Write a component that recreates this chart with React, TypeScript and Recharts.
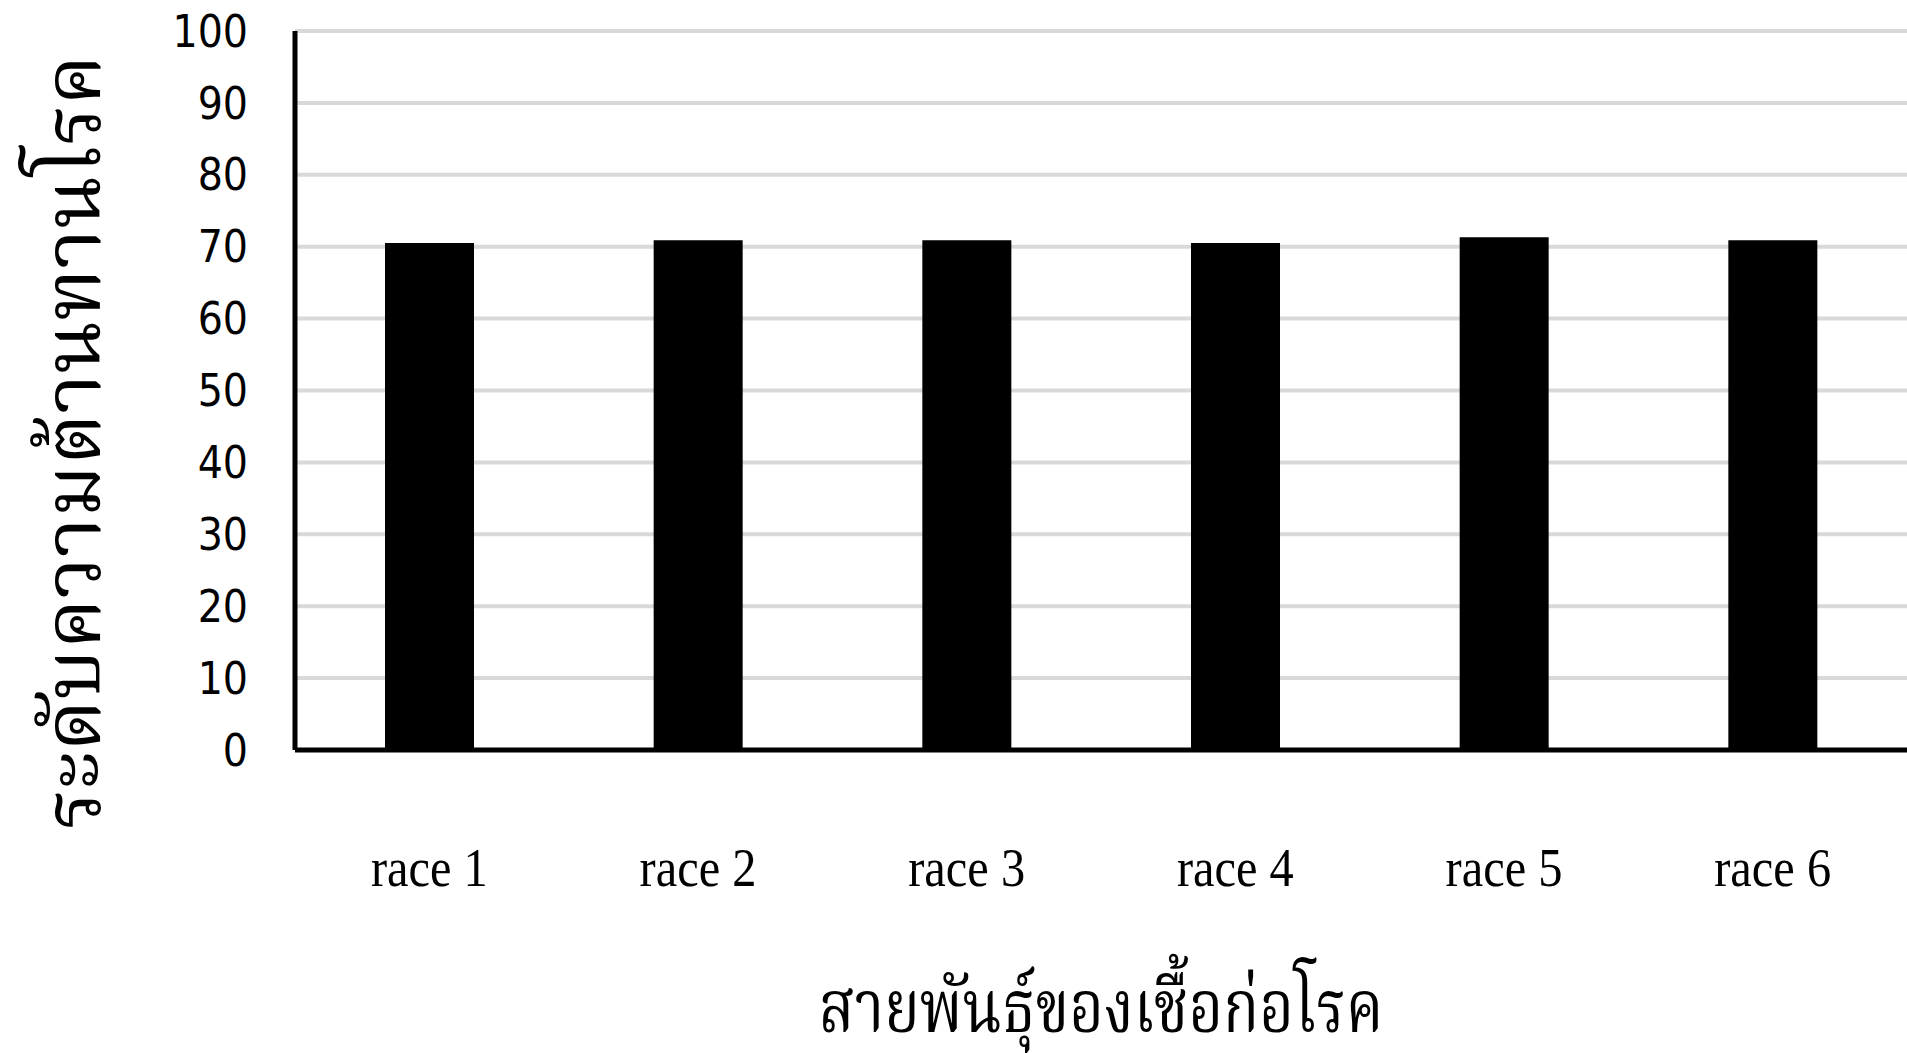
import React from 'react';
import { BarChart, Bar, XAxis, YAxis, CartesianGrid } from 'recharts';

const races = ['race 1', 'race 2', 'race 3', 'race 4', 'race 5', 'race 6'];
const resistance = [70.5, 70.9, 70.9, 70.5, 71.3, 70.9];
const yTicks = [0, 10, 20, 30, 40, 50, 60, 70, 80, 90, 100];
const xTitle = 'สายพันธุ์ของเชื้อก่อโรค';
const yTitle = 'ระดับความต้านทานโรค';

const data = races.map((race, i) => ({ race, value: resistance[i] }));

const thaiFont = '"Noto Serif Thai", "Noto Sans Thai", "TH Sarabun New", Loma, Garuda, "Liberation Serif", serif';

function RaceTick({ x, y, payload }: any) {
  return (
    <g transform={`translate(${x},${y + 134})`}>
      <text textAnchor="middle" transform="scale(0.88,1)" fontFamily='"Liberation Serif", serif' fontSize={55} fill="#000">
        {payload.value}
      </text>
    </g>
  );
}

const XTitle = ({ viewBox }: any) => (
  <text
    x={viewBox.x + viewBox.width / 2}
    y={viewBox.y + 282}
    textAnchor="middle"
    fontFamily={thaiFont}
    fontSize={74}
    fill="#000"
    textLength={565}
    lengthAdjust="spacingAndGlyphs"
  >
    {xTitle}
  </text>
);

const YTitle = () => (
  <text
    x={100}
    y={442}
    transform="rotate(-90, 100, 442)"
    textAnchor="middle"
    fontFamily={thaiFont}
    fontSize={80}
    fill="#000"
    textLength={775}
    lengthAdjust="spacingAndGlyphs"
  >
    {yTitle}
  </text>
);

export default function App() {
  return (
    <div style={{ width: 1907, height: 1053, background: '#fff' }}>
      <style>{'body{margin:0}'}</style>
      <BarChart width={1907} height={1053} data={data} margin={{ top: 31, right: 0, bottom: 0, left: 0 }} barSize={89}>
        <CartesianGrid vertical={false} stroke="#d9d9d9" strokeWidth={4} />
        <XAxis
          dataKey="race"
          height={303}
          tickLine={false}
          tickSize={0}
          axisLine={{ stroke: '#000', strokeWidth: 5 }}
          tick={<RaceTick />}
          interval={0}
          label={{ content: <XTitle /> }}
        />
        <YAxis
          width={295}
          domain={[0, 100]}
          ticks={yTicks}
          interval={0}
          tickLine={false}
          tickSize={0}
          tickMargin={47}
          axisLine={{ stroke: '#000', strokeWidth: 5 }}
          tick={{ fontFamily: '"DejaVu Sans Condensed", "DejaVu Sans", sans-serif', fontSize: 44, fill: '#000' }}
          label={{ content: <YTitle /> }}
        />
        <Bar dataKey="value" fill="#000" isAnimationActive={false} />
      </BarChart>
    </div>
  );
}
